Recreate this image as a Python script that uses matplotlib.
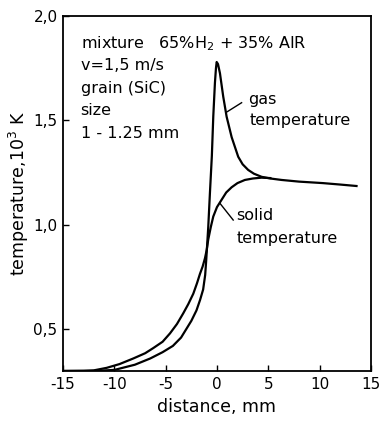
import matplotlib
matplotlib.use("Agg")
import matplotlib.pyplot as plt

# values
gas_x = [-15, -12, -10, -8, -6.5, -5.3, -4.3, -3.5, -3.0, -2.5, -2.0, -1.65, -1.35, -1.15, -1.05,
         -0.95, -0.85, -0.69, -0.5, -0.36, -0.2, -0.1, -0.03, 0.1, 0.29, 0.45, 0.61, 0.94, 1.43,
         2.07, 2.5, 3.04, 3.6, 4.35, 5.2, 6.3, 8, 10.3, 12, 13.6]
gas_y = [0.30, 0.30, 0.305, 0.33, 0.36, 0.39, 0.42, 0.46, 0.50, 0.54, 0.59, 0.64, 0.69, 0.76, 0.83,
         0.91, 0.99, 1.15, 1.33, 1.52, 1.68, 1.75, 1.78, 1.77, 1.726, 1.67, 1.614, 1.518, 1.42,
         1.326, 1.29, 1.263, 1.245, 1.23, 1.222, 1.215, 1.207, 1.20, 1.193, 1.186]

solid_x = [-15, -13, -12, -10.75, -9.5, -8.15, -7, -6.2, -5.3, -4.58, -3.9, -3.29, -2.8, -2.31,
           -1.95, -1.66, -1.4, -1.17, -1.0, -0.85, -0.6, -0.36, 0, 0.45, 0.9, 1.43, 2, 2.72,
           3.5, 4.35, 5.2]
solid_y = [0.30, 0.301, 0.303, 0.315, 0.333, 0.36, 0.385, 0.41, 0.44, 0.48, 0.525, 0.576, 0.62, 0.67,
           0.72, 0.765, 0.80, 0.84, 0.88, 0.93, 0.99, 1.04, 1.085, 1.12, 1.155, 1.18, 1.20, 1.215,
           1.222, 1.226, 1.224]

xticks = [-15, -10, -5, 0, 5, 10, 15]
yticks = [0.5, 1.0, 1.5, 2.0]
ytick_labels = ["0,5", "1,0", "1,5", "2,0"]

fig = plt.figure(figsize=(3.8, 4.23), dpi=100)
ax = fig.add_axes([0.166, 0.123, 0.81, 0.839])

ax.plot(gas_x, gas_y, color="black", lw=1.6, solid_joinstyle="round")
ax.plot(solid_x, solid_y, color="black", lw=1.6, solid_joinstyle="round")

ax.set_xlim(-15, 15)
ax.set_ylim(0.3, 2.0)
ax.set_xticks(xticks)
ax.set_xticklabels([str(t) for t in xticks])
ax.set_yticks(yticks)
ax.set_yticklabels(ytick_labels)
ax.tick_params(direction="in", length=4, width=1, labelsize=11, pad=4)
for s in ax.spines.values():
    s.set_linewidth(1.3)

ax.set_xlabel("distance, mm", fontsize=12.5, labelpad=5)
ax.set_ylabel("temperature,10$^3$ K", fontsize=12.5, labelpad=2)

info = ["mixture   65%H$_2$ + 35% AIR", "v=1,5 m/s", "grain (SiC)", "size", "1 - 1.25 mm"]
for i, line in enumerate(info):
    ax.text(-13.3, 1.87 - i * 0.108, line, fontsize=11.5, va="center", ha="left")

ax.text(3.0, 1.60, "gas", fontsize=11.5, va="center", ha="left")
ax.text(3.2, 1.50, "temperature", fontsize=11.5, va="center", ha="left")
ax.plot([0.94, 2.4], [1.54, 1.585], color="black", lw=1)
ax.text(1.9, 1.045, "solid", fontsize=11.5, va="center", ha="left")
ax.text(1.9, 0.935, "temperature", fontsize=11.5, va="center", ha="left")
ax.plot([0.29, 1.58], [1.103, 1.023], color="black", lw=1)

fig.savefig("out.png", dpi=100)
